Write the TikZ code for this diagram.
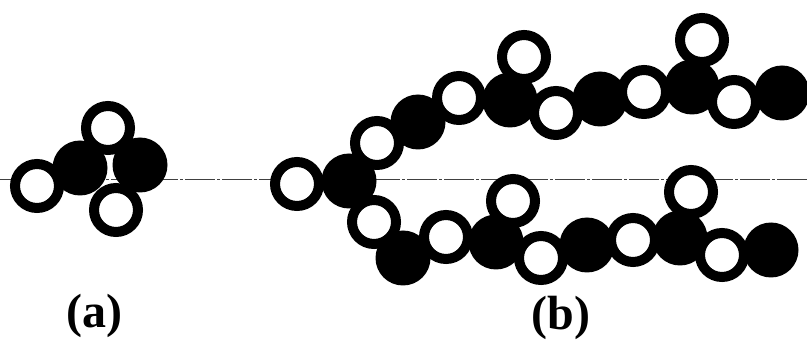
\documentclass[tikz,border=0pt]{standalone}
\usepackage{fontspec}
\setmainfont{Liberation Serif}
\begin{document}
\begin{tikzpicture}[x=1pt,y=-1pt,
  blackball/.style={circle,fill=black,draw=none,minimum size=55pt,inner sep=0pt},
  ringball/.style={circle,fill=white,draw=black,line width=10pt,minimum size=44pt,inner sep=0pt},
  axisline/.style={draw=black!75,line width=0.8pt,dash pattern=on 30pt off 2pt on 3pt off 2pt},
  panellabel/.style={font=\fontsize{48}{48}\selectfont\bfseries,inner sep=0pt}]
\useasboundingbox (0,0) rectangle (807,342);
\coordinate (L) at (0,179.5);
\coordinate (R) at (807,179.5);
\draw[axisline] (L) -- (R);
% panel (a)
\node[blackball] (ab1) at (80,168) {};
\node[blackball] (ab2) at (140,165) {};
\node[ringball] (ar1) at (37,186) {};
\node[ringball] (ar2) at (108,128) {};
\node[ringball] (ar3) at (116,210) {};
% panel (b) black
\node[blackball] (bb1) at (349,181) {};
\node[blackball] (bb2) at (418,122) {};
\node[blackball] (bb3) at (510,100) {};
\node[blackball] (bb4) at (600,99) {};
\node[blackball] (bb5) at (692,87) {};
\node[blackball] (bb6) at (782,93) {};
\node[blackball] (bb7) at (403,258) {};
\node[blackball] (bb8) at (496,242) {};
\node[blackball] (bb9) at (587,245) {};
\node[blackball] (bb10) at (680,238) {};
\node[blackball] (bb11) at (771,250) {};
% panel (b) rings
\node[ringball] (br1) at (297,184) {};
\node[ringball] (br2) at (377,143) {};
\node[ringball] (br3) at (459,98) {};
\node[ringball] (br4) at (524,57) {};
\node[ringball] (br5) at (556,113) {};
\node[ringball] (br6) at (644,92) {};
\node[ringball] (br7) at (702,40) {};
\node[ringball] (br8) at (734,102) {};
\node[ringball] (br9) at (374,222) {};
\node[ringball] (br10) at (446,237) {};
\node[ringball] (br11) at (513,201) {};
\node[ringball] (br12) at (541,258) {};
\node[ringball] (br13) at (633,240) {};
\node[ringball] (br14) at (691,192) {};
\node[ringball] (br15) at (722,255) {};
% labels
\node[panellabel] (la) at (94,316) {(a)};
\node[panellabel] (lb) at (561,318) {(b)};
\end{tikzpicture}
\end{document}
